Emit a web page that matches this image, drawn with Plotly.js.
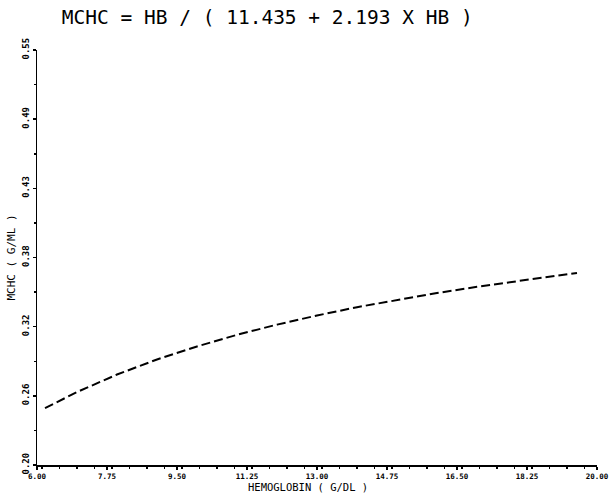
<!DOCTYPE html>
<html>
<head>
<meta charset="utf-8">
<script src="https://cdn.plot.ly/plotly-3.0.1.min.js"></script>
<style>html,body{margin:0;padding:0;background:#fff;}#chart{width:613px;height:493px;}</style>
</head>
<body>
<div id="chart"></div>
<script>
// Hemoglobin (g/dL) and MCHC (g/mL)
const hb = [6.2, 7, 8, 9, 10, 11, 12, 13, 14, 15, 16, 17, 18, 19, 19.5];
const mchc = [0.2480, 0.2615, 0.2763, 0.2890, 0.3000, 0.3098, 0.3184, 0.3261, 0.3331, 0.3393, 0.3450, 0.3503, 0.3552, 0.3597, 0.3620];
const xTickVals = [6.00, 7.75, 9.50, 11.25, 13.00, 14.75, 16.50, 18.25, 20.00];
const xTickText = ["6.00", "7.75", "9.50", "11.25", "13.00", "14.75", "16.50", "18.25", "20.00"];
const yTickVals = [0.20, 0.258333, 0.316667, 0.375, 0.433333, 0.491667, 0.55];
const yTickText = ["0.20", "0.26", "0.32", "0.38", "0.43", "0.49", "0.55"];
const xTitle = "HEMOGLOBIN ( G/DL )";

const tickFont = {family: "DejaVu Sans Mono", size: 9, color: "#000", weight: "bold"};
const trace = {
  x: hb, y: mchc, type: "scatter", mode: "lines",
  line: {color: "#000", width: 2, dash: "9px,4px"},
  hoverinfo: "skip"
};
const layout = {
  width: 613, height: 493,
  margin: {l: 37, r: 16, t: 50, b: 28},
  paper_bgcolor: "#fff", plot_bgcolor: "#fff",
  showlegend: false,
  title: {text: "MCHC = HB / ( 11.435 + 2.193 X HB )", x: 0.436, xanchor: "center", y: 0.965, yanchor: "middle",
          font: {family: "DejaVu Sans Mono", size: 19.5, color: "#000"}},
  xaxis: {
    range: [6, 20], tickvals: xTickVals, ticktext: xTickText,
    showgrid: false, zeroline: false, showline: true, linecolor: "#000", linewidth: 1.5,
    ticks: "outside", ticklen: 3, tickcolor: "#000", tickwidth: 1.5,
    minor: {ticks: "outside", ticklen: 2, tickcolor: "#000", dtick: 0.4375},
    tickfont: {family: "DejaVu Sans Mono", size: 7.5, color: "#000", weight: "bold"}
  },
  yaxis: {
    range: [0.20, 0.55], tickvals: yTickVals, ticktext: yTickText, tickangle: -90,
    showgrid: false, zeroline: false, showline: true, linecolor: "#000", linewidth: 1.5,
    ticks: "outside", ticklen: 3, tickcolor: "#000", tickwidth: 1.5,
    minor: {ticks: "outside", ticklen: 2, tickcolor: "#000", tick0: 0.2, dtick: 0.0291667},
    tickfont: tickFont,
    title: {text: "MCHC ( G/ML )", standoff: 3, font: {family: "DejaVu Sans Mono", size: 11, color: "#000"}}
  },
  annotations: [{
    text: xTitle, xref: "paper", yref: "paper", x: 0.484, y: -0.054,
    xanchor: "center", yanchor: "middle", showarrow: false,
    font: {family: "DejaVu Sans Mono", size: 10.5, color: "#000"}
  }]
};
Plotly.newPlot("chart", [trace], layout, {displayModeBar: false, staticPlot: true});
</script>
</body>
</html>
